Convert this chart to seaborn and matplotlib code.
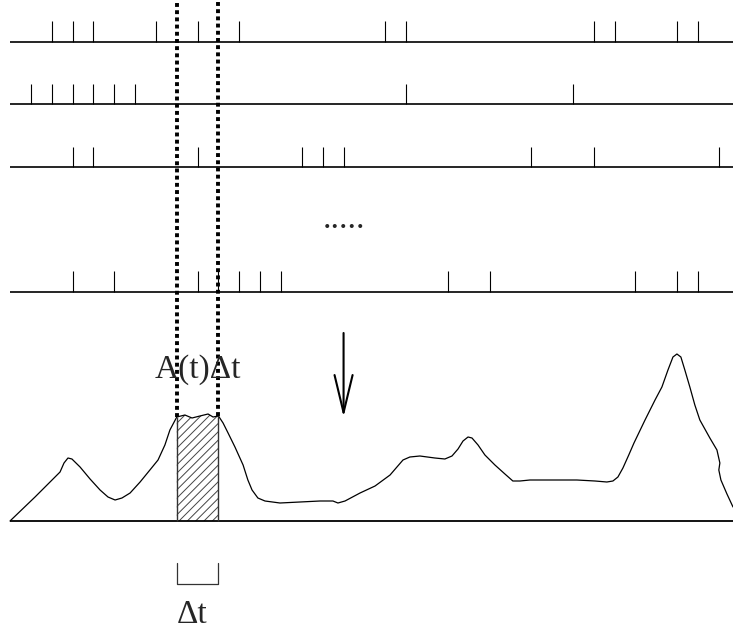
import numpy as np
import matplotlib
matplotlib.use("Agg")
import matplotlib.pyplot as plt
import seaborn as sns

# spike times of four neurons (time in units of the bin width)
spikes_1 = [2, 3, 4, 7, 9, 11, 18, 19, 28, 29, 32, 33]
spikes_2 = [1, 2, 3, 4, 5, 6, 19, 27]
spikes_3 = [3, 4, 9, 14, 15, 16, 25, 28, 34]
spikes_4 = [3, 5, 9, 10, 11, 12, 13, 21, 23, 30, 32, 33]
trains = [spikes_1, spikes_2, spikes_3, spikes_4]

# population activity A(t)
act_t = [0.0, 1.20, 1.92, 2.40, 2.59, 2.78, 2.97, 3.36, 3.84, 4.32, 4.70, 5.04,
         5.37, 5.76, 6.24, 6.71, 7.10, 7.43, 7.67, 8.0, 8.39, 8.73, 9.11, 9.50,
         9.74, 10.0, 10.22, 10.46, 10.79, 11.18, 11.41, 11.61, 11.89, 12.23,
         12.95, 13.91, 14.87, 15.49, 15.73, 16.07, 16.79, 17.51, 18.23, 18.56,
         18.85, 19.18, 19.66, 20.38, 20.86, 21.20, 21.49, 21.73, 21.97, 22.16,
         22.45, 22.78, 23.26, 23.74, 24.12, 24.46, 24.94, 26.38, 27.19, 28.06,
         28.63, 28.92, 29.16, 29.40, 29.68, 29.93, 30.46, 30.94, 31.27, 31.56,
         31.80, 31.99, 32.18, 32.37, 32.61, 32.85, 33.09, 33.57, 33.91, 34.05,
         34.00, 34.10, 34.39, 34.68]
act_val = [0, 24, 39, 49, 58, 63, 62, 54, 42, 31, 24, 21,
           23, 28, 39, 51, 61, 76, 91, 104, 106, 103, 105, 107,
           104, 105, 98, 88, 74, 56, 41, 31, 23, 20,
           18, 19, 20, 20, 18, 20, 28, 35, 46, 54,
           61, 64, 65, 63, 62, 65, 72, 80, 84, 83,
           76, 66, 56, 47, 40, 40, 41, 41, 41, 40,
           39, 40, 44, 53, 66, 78, 101, 121, 134, 151,
           164, 167, 164, 151, 134, 116, 101, 83, 71, 58,
           51, 41, 27, 14]

bin_edges = [8, 10]

act_t = np.array(act_t)
act_val = np.array(act_val)

sns.set_style("white")
plt.rcParams["font.family"] = ["Liberation Serif", "DejaVu Serif"]

fig = plt.figure(figsize=(7.33, 6.30), dpi=100)
ax = fig.add_axes([0, 0, 1, 1])
ax.set_xlim(-0.48, 34.68)
ax.set_ylim(0, 630)
ax.axis("off")

# spike trains
row_base = [588.3, 526, 463, 338.3]
spike_h = 20.5
for base, sp in zip(row_base, trains):
    ax.hlines(base, 0, 40, color="black", lw=1.2)
    ax.vlines(sp, base, base + spike_h, color="black", lw=0.8)

ax.text(16, 402, ".....", ha="center", va="baseline", fontsize=24)

# population activity
act_base = 109
ax.hlines(act_base, 0, 40, color="black", lw=1.3)
sns.lineplot(x=act_t, y=act_base + act_val, sort=False, estimator=None,
             color="black", lw=0.9, ax=ax)

in_bin = (act_t >= bin_edges[0]) & (act_t <= bin_edges[1])
plt.rcParams["hatch.linewidth"] = 0.7
ax.fill_between(act_t[in_bin], act_base, act_base + act_val[in_bin],
                facecolor="white", edgecolor="#444444", hatch="////", lw=0)
edge_top = [act_base + act_val[act_t == e][0] for e in bin_edges]
ax.vlines(bin_edges, act_base, edge_top, color="#333333", lw=1.0)

# dotted bin boundaries
for e, top in zip(bin_edges, edge_top):
    ax.plot([e, e], [top, 640], color="black", lw=2.8,
            linestyle=(0, (1.0, 0.85)), solid_capstyle="butt")

ax.text(9.0, 252, "A(t)\u0394t", ha="center", va="baseline", fontsize=24)

# arrow
ax.annotate("", xy=(16, 213), xytext=(16, 297),
            arrowprops=dict(arrowstyle="->,head_length=27,head_width=6.5",
                            mutation_scale=1, lw=1.5, color="black",
                            shrinkA=0, shrinkB=0))

# bin-width bracket
ax.plot([bin_edges[0], bin_edges[0], bin_edges[1], bin_edges[1]],
        [67, 46.5, 46.5, 67], color="#333333", lw=0.9)
ax.text(bin_edges[0], 7, "\u0394t", ha="left", va="baseline", fontsize=24)

fig.savefig("out.png", dpi=100)
